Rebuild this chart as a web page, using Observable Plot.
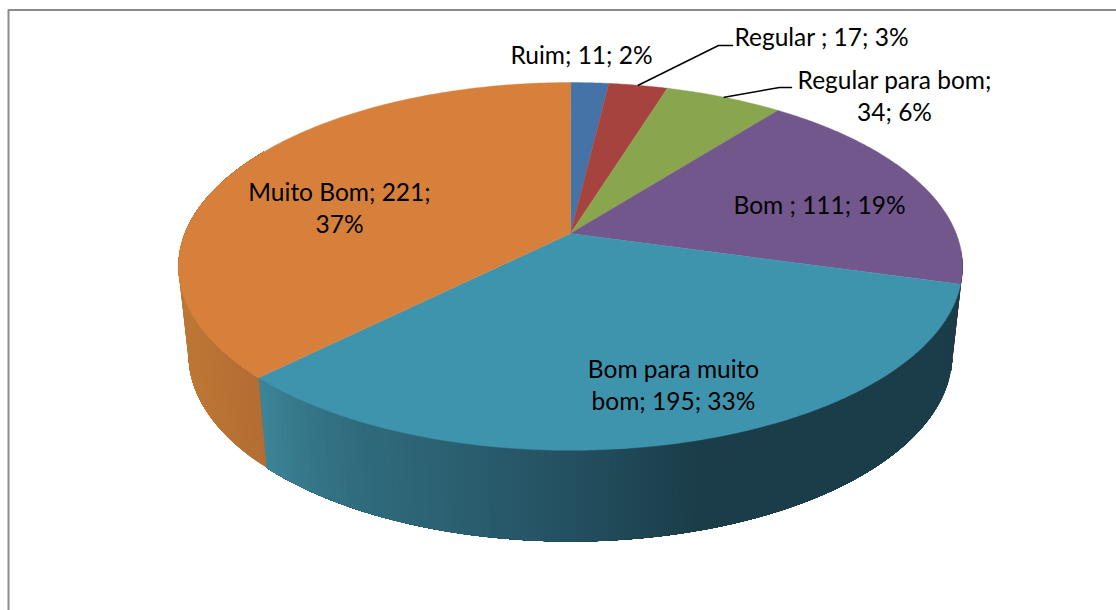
<!DOCTYPE html>
<html>
<head>
<meta charset="utf-8">
<script src="https://cdn.jsdelivr.net/npm/d3@7"></script>
<script src="https://cdn.jsdelivr.net/npm/@observablehq/plot@0.6"></script>
<style>html,body{margin:0;padding:0;background:#fff;overflow:hidden}svg{display:block}</style>
</head>
<body>
<div id="chart"></div>
<script>
// Data
const categories = ["Ruim", "Regular", "Regular para bom", "Bom", "Bom para muito bom", "Muito Bom"];
const values = [11, 17, 34, 111, 195, 221];
const labels = ["Ruim; 11; 2%", "Regular ; 17; 3%", "Regular para bom;\n34; 6%", "Bom ; 111; 19%", "Bom para muito\nbom; 195; 33%", "Muito Bom; 221;\n37%"];
const topColors = ["#4572a7", "#a7433f", "#89a54e", "#72578c", "#3f94ad", "#d6803c"];

// Layout and styling of the drawing
const labelX = [581, 821, 894, 819, 673, 339];
const labelY = [53, 35, 94, 203, 383, 206];
const leaderElbows = {1: [[718, 45], [732, 45]], 2: [[779, 87], [791, 87]]};
const wallStops = {
  3: [[900, "#3a2c48"], [1000, "#3a2c48"]],
  4: [[258, "#3d8498"], [300, "#36778a"], [350, "#2f6c7e"], [450, "#2b6071"], [570, "#245061"], [700, "#1b3d49"], [970, "#1b3d49"]],
  5: [[180, "#bd7735"], [265, "#b26c33"]]
};
const top3D = {cx: 570, cy: 233, a: 178, b: 385.7, k: 0.179};
const low3D = {cx: 570, cy: 320.5, a: 181, b: 375.8, k: 0.179};
const project = (p, deg) => {
  const t = deg * Math.PI / 180, X = Math.sin(t), Y = Math.cos(t), w = 1 + p.k * Y;
  return [p.cx + p.b * X / w, p.cy - p.a * Y / w];
};

// Angles from the values
const total = d3.sum(values);
const cum = d3.cumsum(values);
const startDeg = i => (i === 0 ? 0 : cum[i - 1]) / total * 360;
const endDeg = i => cum[i] / total * 360;

// Top faces
const faces = [];
values.forEach((v, i) => {
  const a0 = startDeg(i), a1 = endDeg(i), n = Math.max(8, Math.ceil((a1 - a0) * 2));
  faces.push({x: top3D.cx, y: top3D.cy, id: categories[i], color: topColors[i]});
  for (let j = 0; j <= n; j++) {
    const [x, y] = project(top3D, a0 + (a1 - a0) * j / n);
    faces.push({x, y, id: categories[i], color: topColors[i]});
  }
});

// Side wall strips: each strip runs to the slice's end and the next paints over it, so no seams show
const walls = [];
Object.keys(wallStops).forEach(key => {
  const i = +key, stops = wallStops[key];
  const shade = d3.scaleLinear().domain(stops.map(s => s[0])).range(stops.map(s => s[1])).interpolate(d3.interpolateRgb).clamp(true);
  const a0 = Math.max(startDeg(i), 95), a1 = Math.min(endDeg(i), 300);
  const n = Math.ceil((a1 - a0));
  for (let j = 0; j < n; j++) {
    const d0 = a0 + (a1 - a0) * j / n, d1 = a0 + (a1 - a0) * (j + 1) / n;
    const color = shade(project(top3D, (d0 + d1) / 2)[0]);
    const id = `${i}-${j}`;
    const forward = d3.range(0, 41).map(m => d0 + (a1 - d0) * m / 40);
    forward.forEach(d => { const [x, y] = project(top3D, d); walls.push({x, y, id, color}); });
    forward.slice().reverse().forEach(d => { const [x, y] = project(low3D, d); walls.push({x, y, id, color}); });
  }
});

// Label table and leader lines
const labelRows = labels.map((text, i) => ({text, x: labelX[i], y: labelY[i]}));
const leaders = [];
Object.keys(leaderElbows).forEach(key => {
  const i = +key, [x0, y0] = project(top3D, (startDeg(i) + endDeg(i)) / 2);
  leaders.push({x: x0, y: y0, id: i});
  leaderElbows[key].forEach(([x, y]) => leaders.push({x, y, id: i}));
});

const chart = Plot.plot({
  width: 1116, height: 610,
  marginTop: 0, marginRight: 0, marginBottom: 0, marginLeft: 0,
  x: {domain: [0, 1116], range: [0, 1116], axis: null},
  y: {domain: [0, 610], range: [0, 610], axis: null},
  style: {background: "#fff", fontFamily: "Lato, sans-serif"},
  marks: [
    Plot.ruleX([8], {y1: 9.5, y2: 610, stroke: "#8c8c8c", strokeWidth: 2}),
    Plot.ruleY([9.5], {x1: 8, x2: 1116, stroke: "#8c8c8c", strokeWidth: 2}),
    Plot.line(walls, {x: "x", y: "y", z: "id", fill: "color", stroke: null, curve: "linear-closed"}),
    Plot.line(faces, {x: "x", y: "y", z: "id", fill: "color", stroke: "color", strokeWidth: 0.4, curve: "linear-closed"}),
    Plot.line(leaders, {x: "x", y: "y", z: "id", stroke: "#000", strokeWidth: 1.5}),
    Plot.text(labelRows, {x: "x", y: "y", text: "text", fill: "#000", fontSize: 24.5, lineHeight: 1.33, textAnchor: "middle"})
  ]
});
document.getElementById("chart").appendChild(chart);
</script>
</body>
</html>
